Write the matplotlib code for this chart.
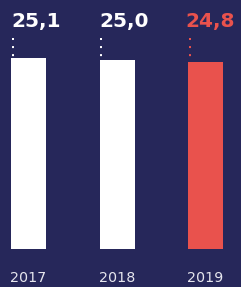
import matplotlib
matplotlib.use("Agg")
import matplotlib.pyplot as plt
import matplotlib.transforms as mtransforms

years = ["2017", "2018", "2019"]
values = [25.1, 25.0, 24.8]
labels = ["25,1", "25,0", "24,8"]
colors = ["#ffffff", "#ffffff", "#e9524d"]

BG = "#26275a"
W, H = 241, 287
fig = plt.figure(figsize=(W / 100, H / 100), dpi=100, facecolor=BG)
ax = fig.add_axes([0, 38 / H, 1, 1 - 38 / H])
ax.set_facecolor(BG)
ax.axis("off")

step = 88.5
x0 = 28.5
ax.set_xlim(-x0 / step, (W - x0) / step)
k = 13.33
b = 10.8
ax.set_ylim(b, b + (H - 38) / k)

bw = 35 / step
xs = list(range(len(values)))
ax.bar(xs, values, width=bw, color=colors, bottom=0)

trans = mtransforms.blended_transform_factory(ax.transData, ax.transAxes)
axh = H - 38
for x, v, lab, c in zip(xs, values, labels, colors):
    left = x - bw / 2
    ax.plot([left + 1.5 / step, left + 1.5 / step], [b + (axh - 38) / k, v],
            color=c, lw=1.45, linestyle=(0, (1, 3)), solid_capstyle="butt",
            dash_capstyle="butt")
    ax.text(left + (0 if x < 2 else -3 / step), (axh - 27) / axh, lab,
            transform=trans, ha="left", va="baseline", color=c,
            fontsize=14.5, fontweight="bold", family=["DejaVu Sans"])
    fig.text((x0 + x * step) / W, 5 / H, years[x], ha="center", va="baseline",
             color="#e6e6ee", fontsize=10.3, family=["DejaVu Sans"])

fig.savefig("out.png", dpi=100, facecolor=BG)
